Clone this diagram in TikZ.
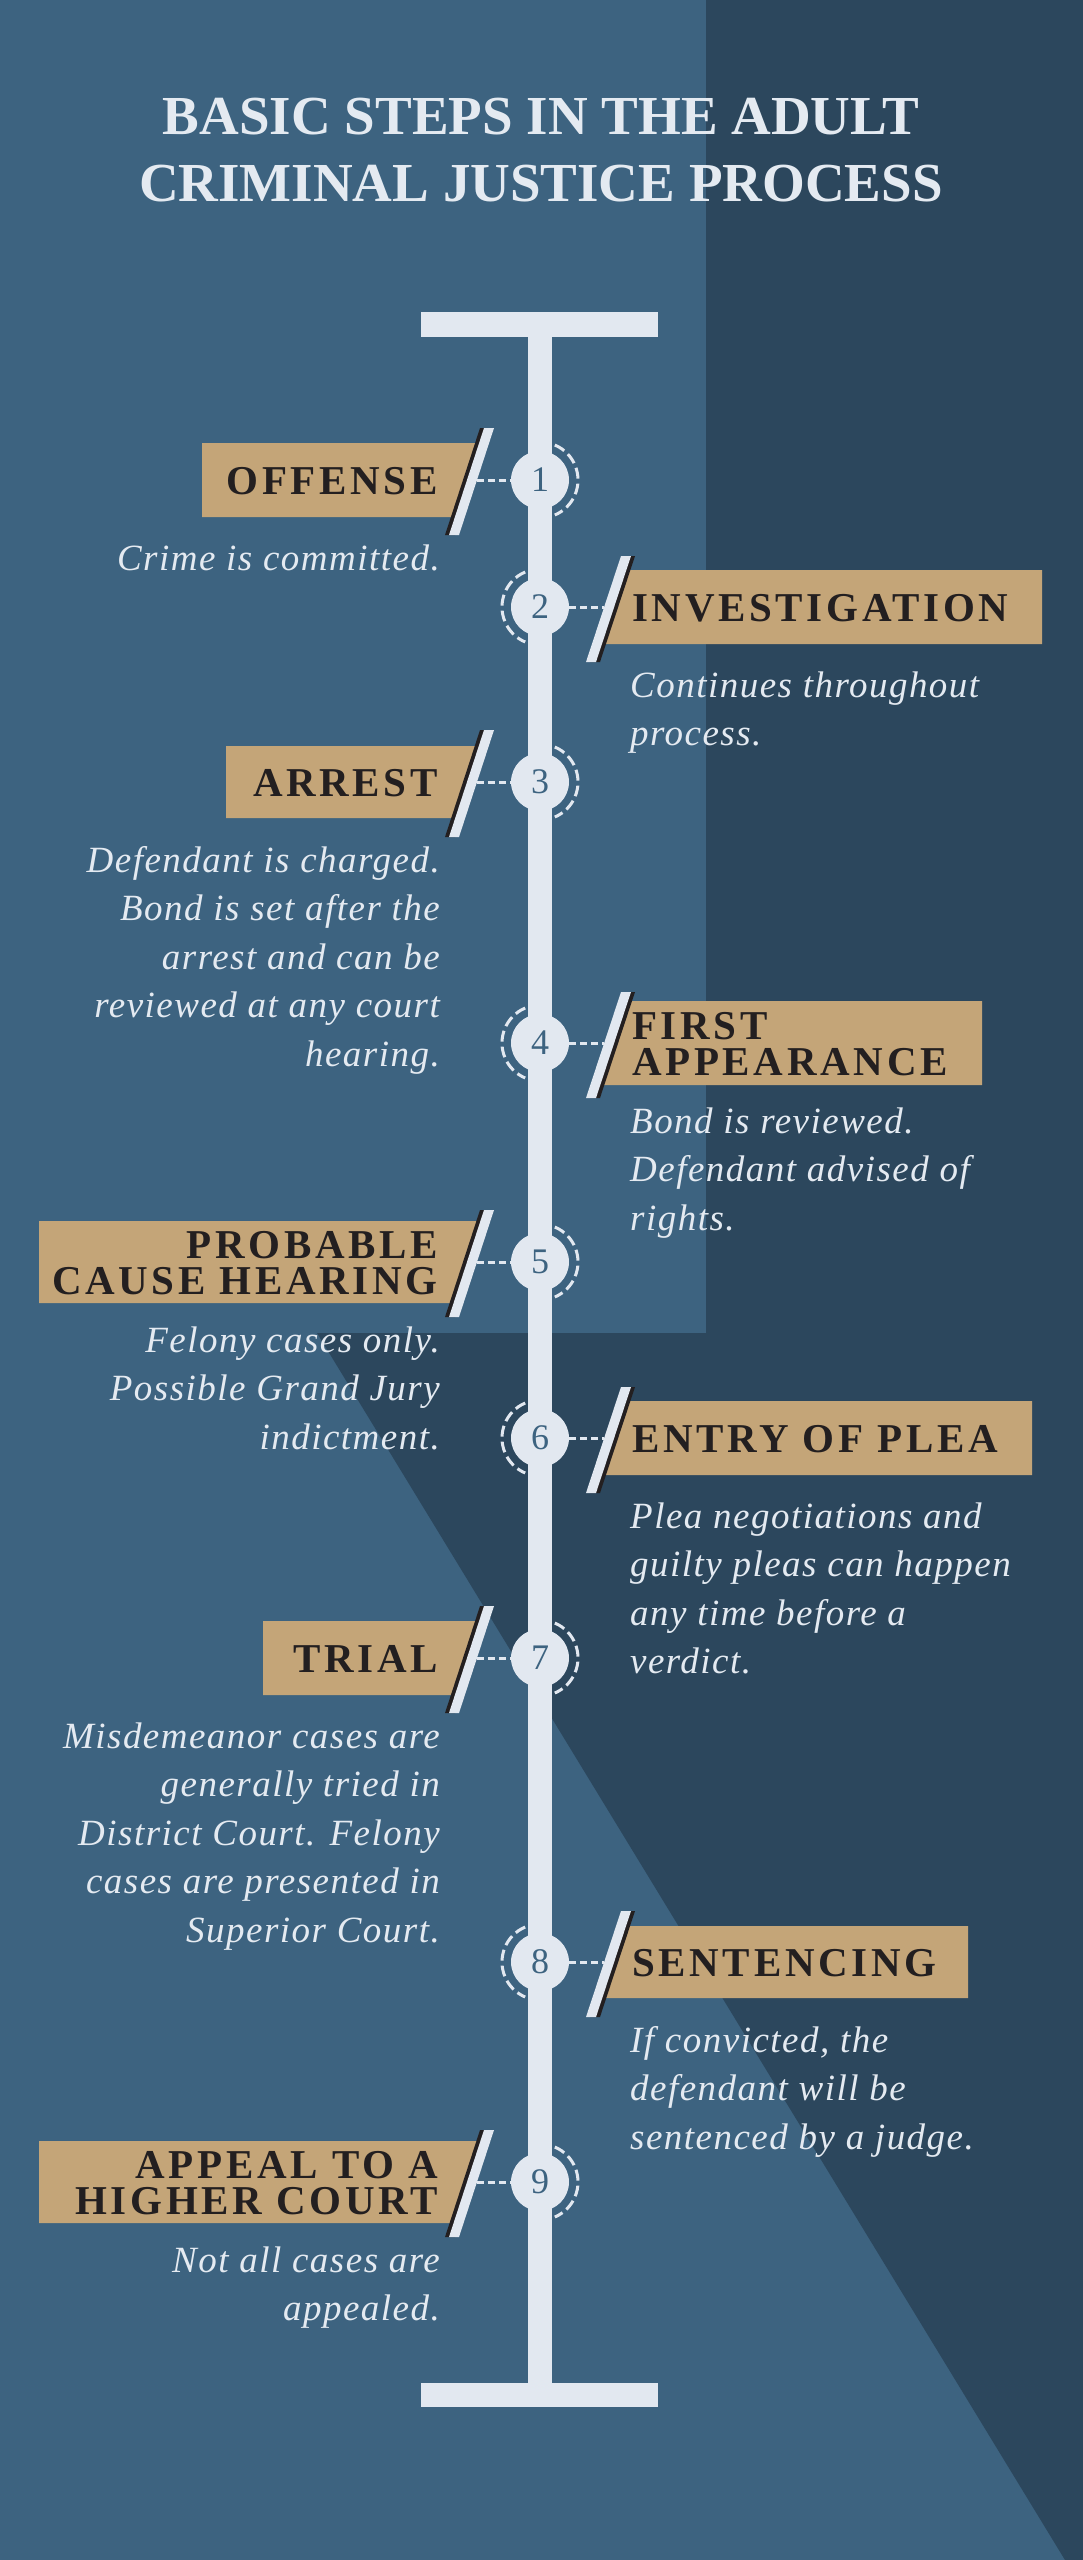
\documentclass[tikz,border=0pt]{standalone}
\usepackage{fontspec}
\setmainfont{Liberation Serif}
\newfontfamily\labelfont[LetterSpace=9]{Liberation Serif}
\newfontfamily\descfont[LetterSpace=4]{Liberation Serif}
\definecolor{bglight}{RGB}{61,99,128}
\definecolor{bgdark}{RGB}{44,71,93}
\definecolor{tan}{RGB}{196,165,120}
\definecolor{barcol}{RGB}{226,232,240}
\definecolor{ink}{RGB}{35,31,32}
\definecolor{desccol}{RGB}{228,234,241}

\begin{document}
\begin{tikzpicture}[x=1pt, y=-1pt,
    stepnum/.style={circle, fill=barcol, minimum size=58pt, inner sep=0pt, text=bglight, font=\fontsize{36}{36}\selectfont},
    lab/.style={inner sep=0pt, text=ink, font=\labelfont\bfseries\fontsize{41}{36.5}\selectfont},
    desc/.style={inner sep=0pt, text=desccol, font=\descfont\itshape\fontsize{37}{48.5}\selectfont},
    link/.style={draw=barcol, line width=3pt, dash pattern=on 7pt off 4pt},
    ring/.style={draw=barcol, line width=3pt, dash pattern=on 11pt off 5pt}]
  %background
    \fill[bglight] (0,0) rectangle (1083,2560);
    \fill[bgdark] (706,0) -- (1083,0) -- (1083,2560) -- (1065,2560) -- (317,1333) -- (706,1333) -- cycle;
    \node[inner sep=0pt, anchor=north, align=center, text=desccol, font=\bfseries\fontsize{55}{67}\selectfont] (title) at (541,98)
      {BASIC STEPS IN THE ADULT\\CRIMINAL JUSTICE PROCESS};
  %timeline bar
    \fill[barcol] (528,312) rectangle (552,2407);
    \fill[barcol] (421,312) rectangle (658,337);
    \fill[barcol] (421,2383) rectangle (658,2407);
  %steps with the label on the left
    \foreach \n/\y/\bx/\h/\lab/\txt in {
        1/480/202/37/{OFFENSE}/{Crime is committed.},
        3/782/226/36/{ARREST}/{Defendant is charged.\\Bond is set after the\\arrest and can be\\reviewed at any court\\hearing.},
        5/1262/39/41/{PROBABLE\\CAUSE HEARING}/{Felony cases only.\\Possible Grand Jury\\indictment.},
        7/1658/263/37/{TRIAL}/{Misdemeanor cases are\\generally tried in\\District Court. Felony\\cases are presented in\\Superior Court.},
        9/2182/39/41/{APPEAL TO A\\HIGHER COURT}/{Not all cases are\\appealed.}}{
      \fill[tan] (\bx,\y-\h) -- ({470+0.33*(\h+1)},\y-\h) -- ({470-0.33*(\h-1)},\y+\h) -- (\bx,\y+\h) -- cycle;
      \node[lab, anchor=east, align=right] (l\n) at (438,\y+1) {\lab};
      \fill[ink] (480,\y-52) -- (490,\y-52) -- (455,\y+55) -- (445,\y+55) -- cycle;
      \fill[barcol] (484,\y-52) -- (494,\y-52) -- (459,\y+55) -- (449,\y+55) -- cycle;
      \coordinate (s\n) at (477,\y);
      \node[stepnum] (n\n) at (540,\y) {\n};
      \draw[link] (s\n) -- (n\n);
      \draw[ring] (n\n) ++(67:38pt) arc[start angle=67, end angle=-67, radius=38pt];
      \node[desc, anchor=north east, align=right] (d\n) at (440,\y+64) {\rule{0pt}{26pt}\txt};
    }
  %steps with the label on the right
    \foreach \n/\y/\bx/\h/\lab/\txt in {
        2/607/1042/37/{INVESTIGATION}/{Continues throughout\\process.},
        4/1043/982/42/{FIRST\\APPEARANCE}/{Bond is reviewed.\\Defendant advised of\\rights.},
        6/1438/1032/37/{ENTRY OF PLEA}/{Plea negotiations and\\guilty pleas can happen\\any time before a\\verdict.},
        8/1962/968/36/{SENTENCING}/{If convicted, the\\defendant will be\\sentenced by a judge.}}{
      \fill[tan] ({608+0.33*(\h+2)},\y-\h) -- (\bx,\y-\h) -- (\bx,\y+\h) -- ({608-0.33*(\h-2)},\y+\h) -- cycle;
      \node[lab, anchor=west, align=left] (l\n) at (632,\y+1) {\lab};
      \fill[ink] (625,\y-51) -- (635,\y-51) -- (600,\y+55) -- (590,\y+55) -- cycle;
      \fill[barcol] (621,\y-51) -- (631,\y-51) -- (596,\y+55) -- (586,\y+55) -- cycle;
      \coordinate (s\n) at (604,\y);
      \node[stepnum] (n\n) at (540,\y) {\n};
      \draw[link] (n\n) -- (s\n);
      \draw[ring] (n\n) ++(113:38pt) arc[start angle=113, end angle=247, radius=38pt];
      \node[desc, anchor=north west, align=left] (d\n) at (630,\y+64) {\rule{0pt}{26pt}\txt};
    }
\end{tikzpicture}
\end{document}
